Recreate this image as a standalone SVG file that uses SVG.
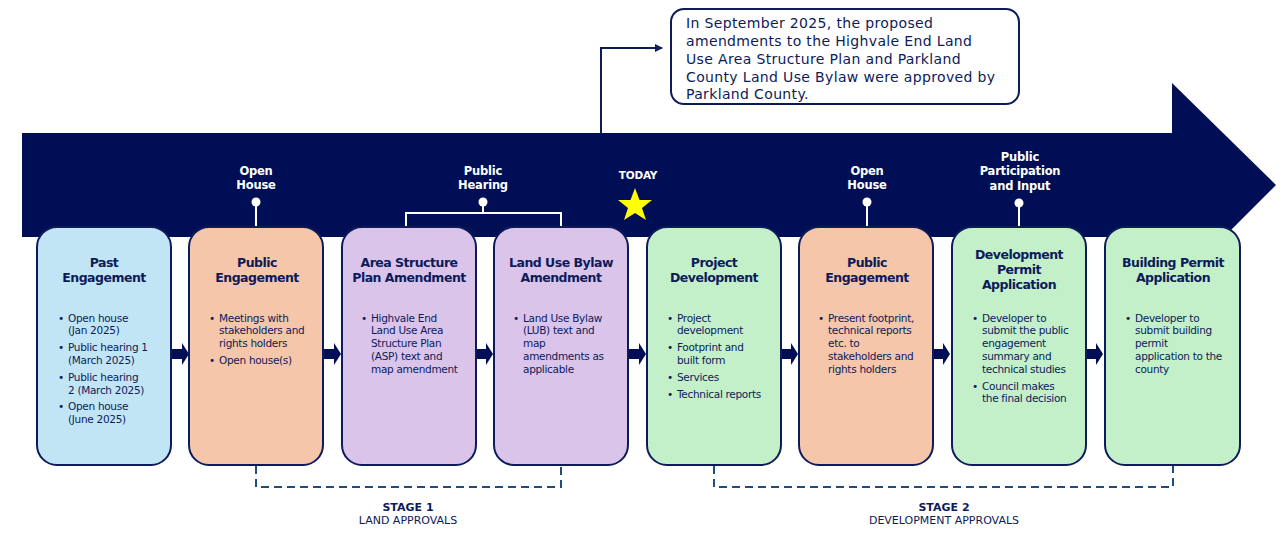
<svg xmlns="http://www.w3.org/2000/svg" width="1280" height="540" viewBox="0 0 1280 540">
<style>
text{font-family:"DejaVu Sans","Verdana",sans-serif;fill:#0D1B5A}
.t{font-size:12.5px;font-weight:bold;text-anchor:middle;letter-spacing:-0.5px}
.b{font-size:10.5px;letter-spacing:-0.3px}
.c{font-size:14px;letter-spacing:0.35px}
.w{fill:#fff;font-size:11.5px;font-weight:bold;text-anchor:middle;letter-spacing:-0.2px}
.box{stroke:#0D1B5A;stroke-width:2}
.pin{stroke:#fff;stroke-width:2;fill:none}
.dash{stroke:#1F4E79;stroke-width:2;stroke-dasharray:8 5;fill:none}
.s{font-size:11px;text-anchor:middle}
</style>
<defs>
<marker id="ah" markerWidth="8" markerHeight="8" refX="7" refY="4" orient="auto" markerUnits="userSpaceOnUse"><path d="M0,0 L8,4 L0,8 Z" fill="#0D1B5A"/></marker>
<path id="chev" d="M-8,-5 L2,-5 L2,-11 L9,0 L2,11 L2,5 L-8,5 Z" fill="#000F55"/>
</defs>
<g id="banner">
<path d="M22,133 L1172,133 L1172,83 L1276,185 L1172,289 L1172,237 L22,237 Z" fill="#000F55"/>
</g>
<g id="callout">
<rect x="671" y="9" width="348" height="95" rx="13" fill="#fff" stroke="#0D1B5A" stroke-width="2"/>
<text class="c" x="686" y="28">In September 2025, the proposed</text>
<text class="c" x="686" y="46">amendments to the Highvale End Land</text>
<text class="c" x="686" y="64">Use Area Structure Plan and Parkland</text>
<text class="c" x="686" y="82">County Land Use Bylaw were approved by</text>
<text class="c" x="686" y="99">Parkland County.</text>
</g>
<g id="connectors">
<path d="M601,133 L601,48 L662,48" stroke="#0D1B5A" stroke-width="2" fill="none" marker-end="url(#ah)"/>
<use href="#chev" x="180" y="354"/>
<use href="#chev" x="332" y="354"/>
<use href="#chev" x="484" y="354"/>
<use href="#chev" x="637" y="354"/>
<use href="#chev" x="789" y="354"/>
<use href="#chev" x="941" y="354"/>
<use href="#chev" x="1094" y="354"/>
<path class="dash" d="M256,466 L256,487 L561,487 L561,466"/>
<path class="dash" d="M714,466 L714,487 L1173,487 L1173,466"/>
</g>
<g id="pins">
<text class="w" x="256" y="175">Open</text><text class="w" x="256" y="189">House</text>
<circle cx="256" cy="202" r="4.5" fill="#fff"/><path class="pin" d="M256,202 L256,227"/>
<text class="w" x="483" y="175">Public</text><text class="w" x="483" y="189">Hearing</text>
<circle cx="483" cy="202" r="4.5" fill="#fff"/><path class="pin" d="M483,202 L483,213 M406,227 L406,213 L561,213 L561,227"/>
<text class="w" x="638" y="179" style="font-size:10.5px">TODAY</text>
<polygon points="635,188 639.5,200 652,200 642,208 646,220 635,213 624,220 628,208 618,200 630.5,200" fill="#FFFF00"/>
<text class="w" x="867" y="175">Open</text><text class="w" x="867" y="189">House</text>
<circle cx="867" cy="202" r="4.5" fill="#fff"/><path class="pin" d="M867,202 L867,227"/>
<text class="w" x="1020" y="161">Public</text><text class="w" x="1020" y="175">Participation</text><text class="w" x="1020" y="190">and Input</text>
<circle cx="1019" cy="203" r="4.5" fill="#fff"/><path class="pin" d="M1019,203 L1019,227"/>
</g>
<g id="n1"><rect class="box" x="37" y="227" width="134" height="238" rx="20" fill="#C2E5F5"/>
<text class="t" x="104" y="267">Past</text><text class="t" x="104" y="282">Engagement</text>
<text class="b" x="58" y="322">•</text><text class="b" x="68" y="322">Open house</text><text class="b" x="68" y="334">(Jan 2025)</text>
<text class="b" x="58" y="351">•</text><text class="b" x="68" y="351">Public hearing 1</text><text class="b" x="68" y="364">(March 2025)</text>
<text class="b" x="58" y="381">•</text><text class="b" x="68" y="381">Public hearing</text><text class="b" x="68" y="394">2 (March 2025)</text>
<text class="b" x="58" y="410">•</text><text class="b" x="68" y="410">Open house</text><text class="b" x="68" y="423">(June 2025)</text></g>
<g id="n2"><rect class="box" x="189" y="227" width="134" height="238" rx="20" fill="#F5C6A9"/>
<text class="t" x="257" y="267">Public</text><text class="t" x="257" y="282">Engagement</text>
<text class="b" x="209" y="322">•</text><text class="b" x="219" y="322">Meetings with</text><text class="b" x="219" y="334">stakeholders and</text><text class="b" x="219" y="347">rights holders</text>
<text class="b" x="209" y="364">•</text><text class="b" x="219" y="364">Open house(s)</text></g>
<g id="n3"><rect class="box" x="342" y="227" width="134" height="238" rx="20" fill="#DAC4EA"/>
<text class="t" x="409" y="267">Area Structure</text><text class="t" x="409" y="282">Plan Amendment</text>
<text class="b" x="361" y="322">•</text><text class="b" x="371" y="322">Highvale End</text><text class="b" x="371" y="334">Land Use Area</text><text class="b" x="371" y="347">Structure Plan</text><text class="b" x="371" y="360">(ASP) text and</text><text class="b" x="371" y="373">map amendment</text></g>
<g id="n4"><rect class="box" x="494" y="227" width="134" height="238" rx="20" fill="#DAC4EA"/>
<text class="t" x="561" y="267">Land Use Bylaw</text><text class="t" x="561" y="282">Amendment</text>
<text class="b" x="513" y="322">•</text><text class="b" x="523" y="322">Land Use Bylaw</text><text class="b" x="523" y="334">(LUB) text and</text><text class="b" x="523" y="347">map</text><text class="b" x="523" y="360">amendments as</text><text class="b" x="523" y="373">applicable</text></g>
<g id="n5"><rect class="box" x="647" y="227" width="134" height="238" rx="20" fill="#C3F0C9"/>
<text class="t" x="714" y="267">Project</text><text class="t" x="714" y="282">Development</text>
<text class="b" x="667" y="322">•</text><text class="b" x="677" y="322">Project</text><text class="b" x="677" y="334">development</text>
<text class="b" x="667" y="351">•</text><text class="b" x="677" y="351">Footprint and</text><text class="b" x="677" y="364">built form</text>
<text class="b" x="667" y="381">•</text><text class="b" x="677" y="381">Services</text>
<text class="b" x="667" y="398">•</text><text class="b" x="677" y="398">Technical reports</text></g>
<g id="n6"><rect class="box" x="799" y="227" width="134" height="238" rx="20" fill="#F5C6A9"/>
<text class="t" x="867" y="267">Public</text><text class="t" x="867" y="282">Engagement</text>
<text class="b" x="818" y="322">•</text><text class="b" x="828" y="322">Present footprint,</text><text class="b" x="828" y="334">technical reports</text><text class="b" x="828" y="347">etc. to</text><text class="b" x="828" y="360">stakeholders and</text><text class="b" x="828" y="373">rights holders</text></g>
<g id="n7"><rect class="box" x="952" y="227" width="134" height="238" rx="20" fill="#C3F0C9"/>
<text class="t" x="1019" y="259">Development</text><text class="t" x="1019" y="274">Permit</text><text class="t" x="1019" y="289">Application</text>
<text class="b" x="972" y="322">•</text><text class="b" x="982" y="322">Developer to</text><text class="b" x="982" y="334">submit the public</text><text class="b" x="982" y="347">engagement</text><text class="b" x="982" y="360">summary and</text><text class="b" x="982" y="373">technical studies</text>
<text class="b" x="972" y="390">•</text><text class="b" x="982" y="390">Council makes</text><text class="b" x="982" y="402">the final decision</text></g>
<g id="n8"><rect class="box" x="1105" y="227" width="135" height="238" rx="20" fill="#C3F0C9"/>
<text class="t" x="1173" y="267">Building Permit</text><text class="t" x="1173" y="282">Application</text>
<text class="b" x="1125" y="322">•</text><text class="b" x="1135" y="322">Developer to</text><text class="b" x="1135" y="334">submit building</text><text class="b" x="1135" y="347">permit</text><text class="b" x="1135" y="360">application to the</text><text class="b" x="1135" y="373">county</text></g>
<g id="stages">
<text class="s" x="408" y="511" style="font-weight:bold">STAGE 1</text><text class="s" x="408" y="524">LAND APPROVALS</text>
<text class="s" x="944" y="511" style="font-weight:bold">STAGE 2</text><text class="s" x="944" y="524">DEVELOPMENT APPROVALS</text>
</g>
</svg>
